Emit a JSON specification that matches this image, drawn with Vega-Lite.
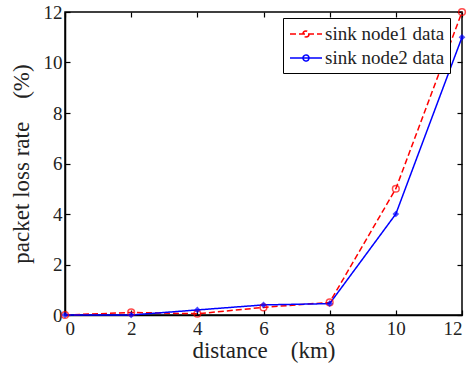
{
  "$schema": "https://vega.github.io/schema/vega-lite/v6.json",
  "width": 397,
  "height": 303,
  "autosize": {"type": "none"},
  "padding": {"left": 65, "top": 12, "right": 7, "bottom": 54},
  "background": "white",
  "config": {
    "view": {"stroke": "black", "strokeWidth": 1.5},
    "font": "Times New Roman, Liberation Serif, serif",
    "legend": {"labelFont": "Times New Roman, Liberation Serif, serif"},
    "axis": {
      "domainColor": "black", "domainWidth": 1.5, "tickColor": "black", "tickSize": -5,
      "tickWidth": 1.2, "grid": false, "labelFont": "Times New Roman, Liberation Serif, serif", "labelFontSize": 19,
      "labelColor": "#222", "titleFont": "Times New Roman, Liberation Serif, serif", "titleFontSize": 23,
      "titleFontWeight": "normal", "titleColor": "#222"
    }
  },
  "data": {
    "values": [
      {"d": 0, "v": 0, "s": "sink node1 data"},
      {"d": 2, "v": 0.1, "s": "sink node1 data"},
      {"d": 4, "v": 0.05, "s": "sink node1 data"},
      {"d": 6, "v": 0.3, "s": "sink node1 data"},
      {"d": 8, "v": 0.5, "s": "sink node1 data"},
      {"d": 10, "v": 5, "s": "sink node1 data"},
      {"d": 12, "v": 12, "s": "sink node1 data"},
      {"d": 0, "v": 0, "s": "sink node2 data"},
      {"d": 2, "v": 0, "s": "sink node2 data"},
      {"d": 4, "v": 0.2, "s": "sink node2 data"},
      {"d": 6, "v": 0.4, "s": "sink node2 data"},
      {"d": 8, "v": 0.45, "s": "sink node2 data"},
      {"d": 10, "v": 4, "s": "sink node2 data"},
      {"d": 12, "v": 11, "s": "sink node2 data"}
    ]
  },
  "layer": [
    {
      "mark": {"type": "line", "strokeWidth": 1.5},
      "encoding": {
        "x": {"field": "d", "type": "quantitative", "scale": {"domain": [0, 12], "nice": false},
              "axis": {"values": [0,2,4,6,8,10,12], "title": "distance\u00a0\u00a0\u00a0\u00a0(km)", "labelPadding": 9, "titlePadding": 1}},
        "y": {"field": "v", "type": "quantitative", "scale": {"domain": [0, 12], "nice": false},
              "axis": {"values": [0,2,4,6,8,10,12], "title": "packet loss rate\u00a0\u00a0\u00a0\u00a0(%)", "labelPadding": 8, "titlePadding": 10}},
        "color": {"field": "s", "type": "nominal",
                  "scale": {"domain": ["sink node1 data", "sink node2 data"], "range": ["red", "blue"]},
                  "legend": {"title": null, "orient": "none", "legendX": 218, "legendY": 6,
                             "strokeColor": "black", "fillColor": "white", "padding": 5,
                             "labelFontSize": 19, "labelColor": "#222",
                             "symbolType": "M-1.6,0H1.6M0.3,0A0.3,0.3 0 1,1 -0.3,0A0.3,0.3 0 1,1 0.3,0",
                             "symbolSize": 400, "symbolStrokeWidth": 1.5, "symbolOffset": 7,
                             "rowPadding": 3, "labelOffset": 8}},
        "strokeDash": {"field": "s", "type": "nominal",
                       "scale": {"domain": ["sink node1 data", "sink node2 data"], "range": [[6, 3], [1, 0]]},
                       "legend": null}
      }
    },
    {
      "transform": [{"filter": "datum.s == 'sink node1 data'"}],
      "mark": {"type": "point", "shape": "circle", "filled": false, "color": "red", "size": 45, "strokeWidth": 1.5},
      "encoding": {
        "x": {"field": "d", "type": "quantitative", "axis": {"orient": "top", "labels": false, "title": null, "domain": false, "values": [0,2,4,6,8,10,12]}},
        "y": {"field": "v", "type": "quantitative", "axis": {"orient": "right", "labels": false, "title": null, "domain": false, "values": [0,2,4,6,8,10,12]}}
      }
    },
    {
      "transform": [{"filter": "datum.s == 'sink node2 data'"}],
      "mark": {"type": "point", "shape": "diamond", "filled": true, "color": "blue", "size": 45},
      "encoding": {
        "x": {"field": "d", "type": "quantitative", "axis": null},
        "y": {"field": "v", "type": "quantitative", "axis": null}
      }
    }
  ],
  "resolve": {"axis": {"x": "independent", "y": "independent"}}
}
